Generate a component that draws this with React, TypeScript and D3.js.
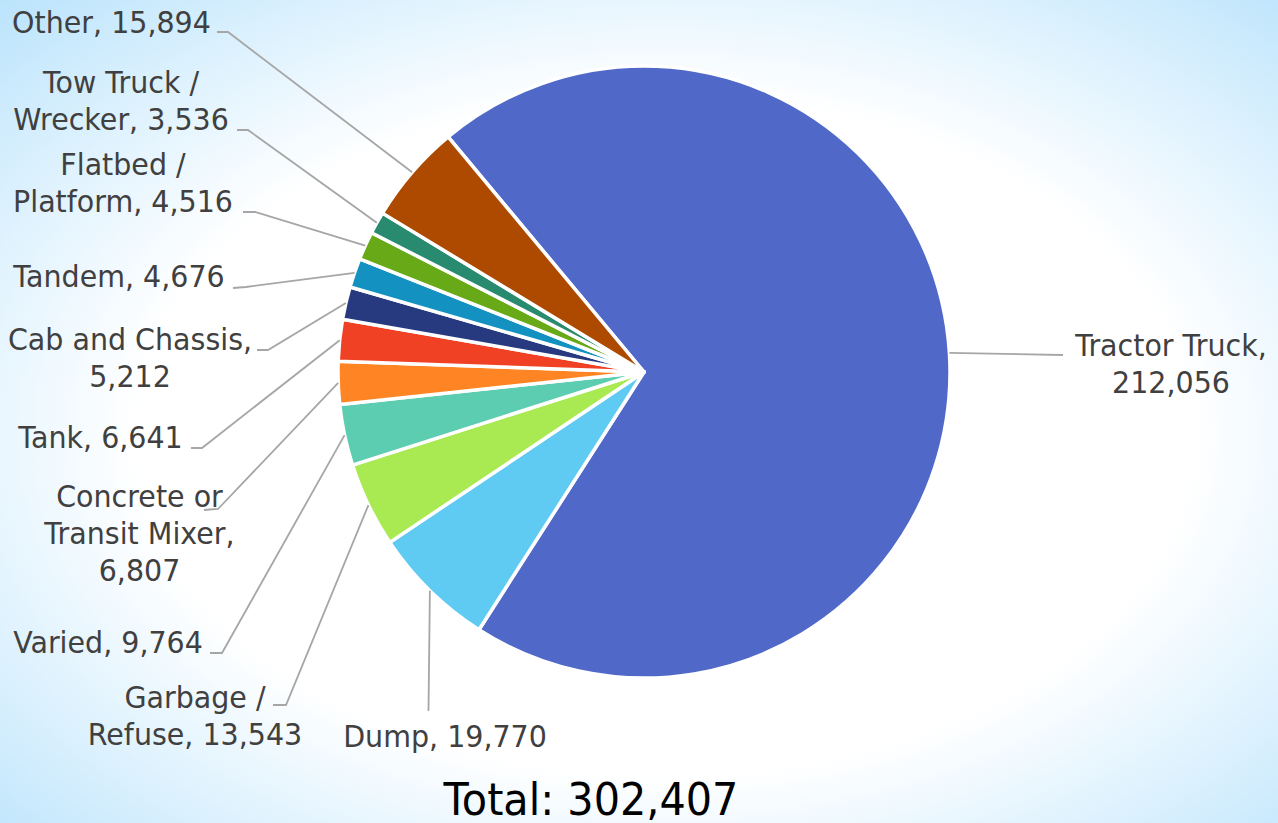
import React from "react";
import * as d3 from "d3";

// ---- data ----
const categories = [
  "Tractor Truck",
  "Dump",
  "Garbage / Refuse",
  "Varied",
  "Concrete or Transit Mixer",
  "Tank",
  "Cab and Chassis",
  "Tandem",
  "Flatbed / Platform",
  "Tow Truck / Wrecker",
  "Other",
];
const values = [212056, 19770, 13543, 9764, 6807, 6641, 5212, 4676, 4516, 3536, 15894];
const colors = [
  "#5068C8",
  "#5FCBF2",
  "#A9E951",
  "#5DCDB1",
  "#FF8423",
  "#F04124",
  "#273A80",
  "#1391C0",
  "#67A916",
  "#288A6E",
  "#AD4A00",
];
const totalValue = 302407;
// words per label line
const lineWords = [[2, 1], [2], [2, 2], [2], [2, 2, 1], [2], [3, 1], [2], [2, 2], [3, 2], [2]];

// ---- layout ----
const W = 1278;
const H = 823;
const CX = 644;
const CY = 372;
const R = 306;
const START_DEG = -39.8;
const LINE_H = 37;
const TEXT_SX = 0.92;

type Lay = { x: number; y: number; path: [number, number][] };
const labelLayout: Lay[] = [
  { x: 1171, y: 356, path: [[1063, 355]] },
  { x: 445, y: 747, path: [[428.5, 711]] },
  { x: 195, y: 708, path: [[286, 705], [273, 705]] },
  { x: 108, y: 653, path: [[222, 653], [210, 653]] },
  { x: 139.5, y: 507, path: [[218, 509], [204, 510]] },
  { x: 100.5, y: 448, path: [[202, 448], [191, 448]] },
  { x: 130, y: 350, path: [[268, 350], [257, 350]] },
  { x: 119, y: 287, path: [[246, 287], [233, 288]] },
  { x: 123, y: 175, path: [[255, 212], [243, 212]] },
  { x: 121, y: 93, path: [[248, 130], [237, 130]] },
  { x: 111.5, y: 33, path: [[228, 32], [217, 32]] },
];

const fmt = d3.format(",");

function splitLines(text: string, counts: number[]): string[] {
  const words = text.split(" ");
  const out: string[] = [];
  let i = 0;
  counts.forEach((c, k) => {
    const n = k === counts.length - 1 ? words.length - i : c;
    out.push(words.slice(i, i + n).join(" "));
    i += n;
  });
  return out;
}

export default function App() {
  const toRad = (d: number) => (d * Math.PI) / 180;
  const pie = d3
    .pie<number>()
    .sort(null)
    .value((d) => d)
    .startAngle(toRad(START_DEG))
    .endAngle(toRad(START_DEG + 360));
  const arcs = pie(values);
  const arc = d3.arc<d3.PieArcDatum<number>>().innerRadius(0).outerRadius(R);
  const edge = d3.arc<d3.PieArcDatum<number>>().innerRadius(R).outerRadius(R);
  const line = d3.line();
  const font = "'DejaVu Sans', Verdana, sans-serif";

  return (
    <svg
      width={W}
      height={H}
      style={{ position: "absolute", left: 0, top: 0, display: "block" }}
    >
      <defs>
        <radialGradient id="bg" cx="0.52" cy="0.53" r="0.75">
          <stop offset="0" stopColor="#ffffff" />
          <stop offset="0.55" stopColor="#ffffff" />
          <stop offset="1" stopColor="#B9E3FC" />
        </radialGradient>
      </defs>
      <rect x={0} y={0} width={W} height={H} fill="url(#bg)" />
      <g transform={`translate(${CX},${CY})`}>
        {arcs.map((a, i) => (
          <path key={i} d={arc(a) || ""} fill={colors[i]} stroke="#ffffff" strokeWidth={3.5} strokeLinejoin="round" />
        ))}
      </g>
      {arcs.map((a, i) => {
        const [ex, ey] = edge.centroid(a);
        const pts: [number, number][] = [[CX + ex, CY + ey], ...labelLayout[i].path];
        return (
          <path key={"l" + i} d={line(pts) || ""} fill="none" stroke="#A6A6A6" strokeWidth={1.8} />
        );
      })}
      {categories.map((c, i) => {
        const lines = splitLines(`${c}, ${fmt(values[i])}`, lineWords[i]);
        const L = labelLayout[i];
        return (
          <g key={"t" + i}>
            {lines.map((t, k) => (
              <text
                key={k}
                transform={`translate(${L.x},${L.y + k * LINE_H}) scale(${TEXT_SX},1)`}
                textAnchor="middle"
                fontFamily={font}
                fontSize={31}
                fill="#404040"
              >
                {t}
              </text>
            ))}
          </g>
        );
      })}
      <text
        transform={`translate(591,815) scale(${TEXT_SX},1)`}
        textAnchor="middle"
        fontFamily={font}
        fontSize={45}
        fill="#000000"
      >
        {`Total: ${fmt(totalValue)}`}
      </text>
    </svg>
  );
}
